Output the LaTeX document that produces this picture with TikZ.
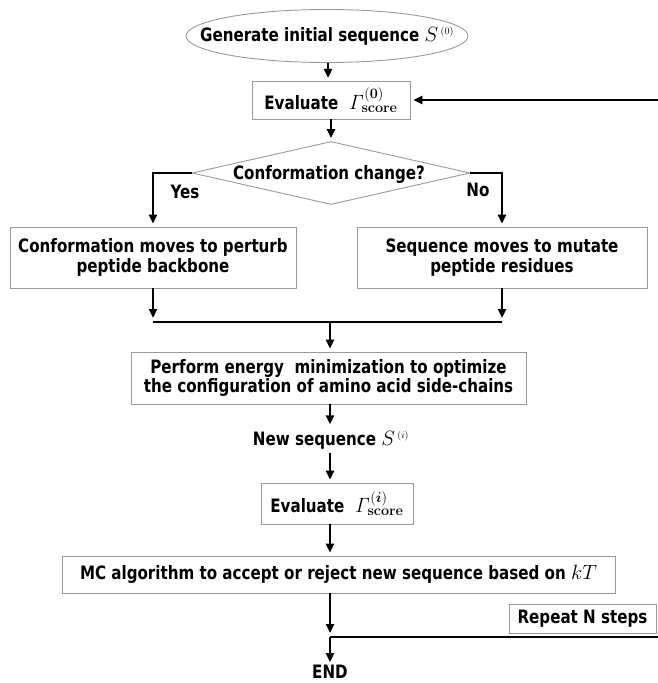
\documentclass[tikz,border=0pt]{standalone}
\usepackage{amsmath}
\usepackage[no-math]{fontspec}
\setmainfont{DejaVu Sans}[FakeStretch=0.82]
\usetikzlibrary{shapes.geometric,arrows.meta}
\definecolor{boxgray}{gray}{0.6}
\newcommand{\bigmath}[1]{{\fontsize{22}{22}\selectfont$#1$}}
\begin{document}
\begin{tikzpicture}[x=1bp,y=-1bp,
  txt/.style={inner sep=0, align=center, font=\bfseries\fontsize{18.5}{20}\selectfont},
  box/.style={txt, draw=boxgray, line width=0.9bp},
  ell/.style={ellipse, draw=boxgray, line width=0.9bp, inner sep=0, minimum width=282bp, minimum height=53bp},
  dia/.style={diamond, draw=boxgray, line width=0.9bp, inner sep=0, minimum width=278bp, minimum height=63bp},
  conn/.style={line width=2.4bp, draw=black},
  arr/.style={conn, -{Triangle[length=9bp,width=8bp]}, shorten >=3bp}]
\useasboundingbox (0,0) rectangle (658,683);

% nodes
\node[ell] (gen) at (327,36) {};
\node[txt] (gentext) at (327,36) {Generate initial sequence {\fontsize{20}{20}\selectfont$S^{\,\scriptscriptstyle(0)}$}};
\node[box, minimum width=158bp, minimum height=38bp] (eval0) at (331,100)
  {Evaluate\ \ \bigmath{\mathit{\Gamma}^{(\mathbf{0})}_{\mathbf{score}}}};
\node[dia] (dec) at (331,173) {};
\node[txt] (dectext) at (329,174) {Conformation change?};
\node[txt] (yes) at (185,192) {Yes};
\node[txt] (no) at (478,190) {No};
\node[box, minimum width=286bp, minimum height=61bp] (left) at (153,257.5)
  {Conformation moves to perturb\\peptide backbone};
\node[box, minimum width=290bp, minimum height=61bp] (right) at (502,257.5)
  {Sequence moves to mutate\\peptide residues};
\node[box, minimum width=395bp, minimum height=52bp] (energy) at (328.5,378)
  {Perform energy\ \ minimization to optimize\\the configuration of amino acid side-chains};
\node[txt, inner sep=3bp] (newseq) at (331,440) {New sequence {\fontsize{20}{20}\selectfont$S^{\,\scriptscriptstyle(i)}$}};
\node[box, minimum width=152bp, minimum height=41bp] (evali) at (337,503.5)
  {Evaluate\ \ \bigmath{\mathit{\Gamma}^{(\boldsymbol{i})}_{\mathbf{score}}}};
\node[box, minimum width=553bp, minimum height=37bp] (mc) at (338.5,574.5)
  {MC algorithm to accept or reject new sequence based on {\fontsize{22}{22}\selectfont$kT$}};
\node[box, minimum width=147bp, minimum height=29bp] (rep) at (582.5,618.5) {Repeat N steps};
\node[txt, inner sep=1bp] (endn) at (330,672) {END};

\coordinate (mL) at (153,322);
\coordinate (mR) at (502,322);
\coordinate (mC) at (330,322);
\coordinate (loopj) at (330,637);
\coordinate (rEdge) at (658,637);
\coordinate (rTop) at (658,100);

% connectors
\draw[arr] (gen.south -| 328,0) -- (328,81);
\draw[arr] (eval0.south) -- (dec.north);
\draw[arr] (dec.west) -| (left.north);
\draw[arr] (dec.east) -| (right.north);
\draw[arr, shorten >=4bp] (left.south) -- (mL);
\draw[arr, shorten >=4bp] (right.south) -- (mR);
\draw[conn] (mL) -- (mR);
\draw[arr] (mC) -- (mC |- energy.north);
\draw[arr] (energy.south -| mC) -- (newseq.north -| mC);
\draw[arr] (newseq.south -| mC) -- (evali.north -| mC);
\draw[arr] (evali.south -| mC) -- (mc.north -| mC);
\draw[arr, shorten >=4bp] (mc.south -| mC) -- (loopj);
\draw[conn] (loopj) -- (rEdge);
\draw[arr, shorten >=2bp] (loopj) -- (endn.north);
\draw[arr] (rTop) -- (eval0.east);
\end{tikzpicture}
\end{document}
